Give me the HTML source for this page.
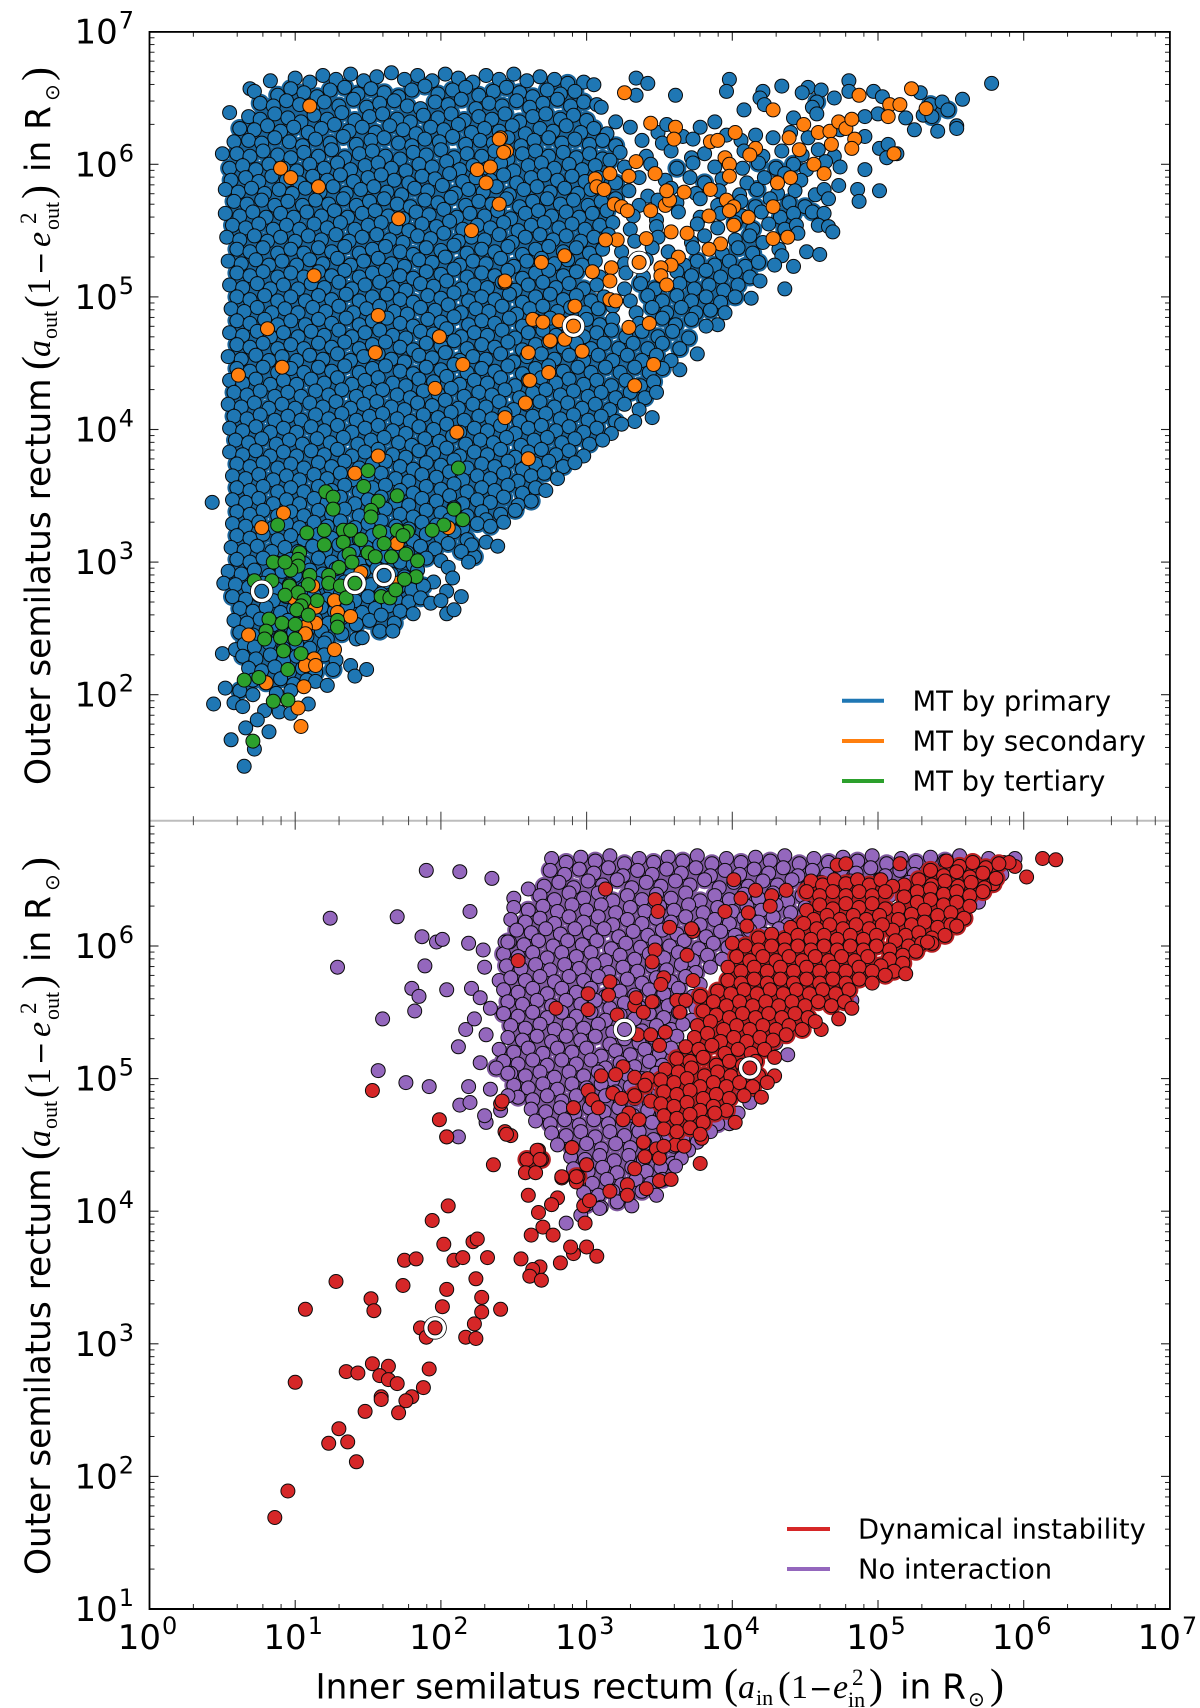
<!DOCTYPE html>
<html>
<head>
<meta charset="utf-8">
<title>Semilatus rectum scatter</title>
<style>
html,body{margin:0;padding:0;background:#fff}
svg{display:block}
text{font-family:"DejaVu Sans","Liberation Sans",sans-serif;fill:#000}
.m{font-family:"Liberation Serif","DejaVu Serif",serif}
.i{font-family:"Liberation Serif","DejaVu Serif",serif;font-style:italic}
</style>
</head>
<body>
<svg id="fig" xmlns="http://www.w3.org/2000/svg" width="1200" height="1708" viewBox="0 0 1200 1708">
<rect x="0" y="0" width="1200" height="1708" fill="#fff"/>
<g id="top-marks"></g>
<g id="bottom-marks"></g>
<g id="axes"></g>
<rect x="149.5" y="31" width="1020.5" height="1.8" fill="#000"/>
<rect x="149.5" y="1608" width="1020.5" height="2" fill="#000"/>
<rect x="148.6" y="31" width="1.8" height="1579" fill="#000"/>
<rect x="1169" y="31" width="1.8" height="1579" fill="#000"/>
<g>
<line x1="842" x2="884" y1="700.7" y2="700.7" stroke="#1f77b4" stroke-width="4"/>
<text x="912.5" y="710.7" font-size="27.4">MT by primary</text>
<line x1="842" x2="884" y1="741" y2="741" stroke="#ff7f0e" stroke-width="4"/>
<text x="912.5" y="750.7" font-size="27.4">MT by secondary</text>
<line x1="842" x2="884" y1="781" y2="781" stroke="#2ca02c" stroke-width="4"/>
<text x="912.5" y="790.7" font-size="27.4">MT by tertiary</text>
</g>
<g>
<line x1="787" x2="830" y1="1529" y2="1529" stroke="#d62728" stroke-width="4"/>
<text x="858" y="1538.5" font-size="27.4">Dynamical instability</text>
<line x1="787" x2="830" y1="1569" y2="1569" stroke="#9467bd" stroke-width="4"/>
<text x="858" y="1578.5" font-size="27.4">No interaction</text>
</g>
<g>
<text x="315.5" y="1698.5" font-size="34.3">Inner semilatus rectum</text>
<text class="m" x="724" y="1698" font-size="42">(</text>
<text class="i" x="738" y="1698" font-size="34">a</text>
<text class="m" x="756" y="1705" font-size="22">in</text>
<text class="m" x="778" y="1698" font-size="38">(</text>
<text class="m" x="791" y="1698" font-size="34">1</text>
<text x="809" y="1698" font-size="28">−</text>
<text class="i" x="833" y="1698" font-size="34">e</text>
<text class="m" x="852" y="1685" font-size="23">2</text>
<text class="m" x="848" y="1707" font-size="22">in</text>
<text class="m" x="869" y="1698" font-size="42">)</text>
<text x="900" y="1698.5" font-size="34.3">in R</text>
<text x="968" y="1706" font-size="20">⊙</text>
<text class="m" x="990" y="1698" font-size="42">)</text>
</g>
<g transform="translate(50,785) rotate(-90)">
<text x="0" y="0" font-size="34.3">Outer semilatus rectum</text>
<text class="m" x="415" y="1" font-size="42">(</text>
<text class="i" x="428" y="0" font-size="34">a</text>
<text class="m" x="446" y="7" font-size="22">out</text>
<text class="m" x="477" y="1" font-size="38">(</text>
<text class="m" x="490" y="0" font-size="34">1</text>
<text x="510" y="0" font-size="28">−</text>
<text class="i" x="538" y="0" font-size="34">e</text>
<text class="m" x="561" y="-14" font-size="23">2</text>
<text class="m" x="555" y="9" font-size="22">out</text>
<text class="m" x="586" y="1" font-size="42">)</text>
<text x="613" y="0" font-size="34.3">in R</text>
<text x="684" y="9" font-size="20">⊙</text>
<text class="m" x="704" y="1" font-size="42">)</text>
</g>
<g transform="translate(50,1575) rotate(-90)">
<text x="0" y="0" font-size="34.3">Outer semilatus rectum</text>
<text class="m" x="415" y="1" font-size="42">(</text>
<text class="i" x="428" y="0" font-size="34">a</text>
<text class="m" x="446" y="7" font-size="22">out</text>
<text class="m" x="477" y="1" font-size="38">(</text>
<text class="m" x="490" y="0" font-size="34">1</text>
<text x="510" y="0" font-size="28">−</text>
<text class="i" x="538" y="0" font-size="34">e</text>
<text class="m" x="561" y="-14" font-size="23">2</text>
<text class="m" x="555" y="9" font-size="22">out</text>
<text class="m" x="586" y="1" font-size="42">)</text>
<text x="613" y="0" font-size="34.3">in R</text>
<text x="684" y="9" font-size="20">⊙</text>
<text class="m" x="704" y="1" font-size="42">)</text>
</g>
</svg>
<script>
// All point values are log10(value in solar radii) x 100, stored as x,y,x,y,...
const xTickExponents = [0,1,2,3,4,5,6,7];
const topYTickExponents = [2,3,4,5,6,7];
const bottomYTickExponents = [1,2,3,4,5,6];
const xMinorMultipliers = [2,4,6,8];
const yMinorMultipliers = [2,3,4,5,6,7,8,9];

const primaryLog = [
100,665,110,662,119,667,128,664,138,668,147,663,156,666,166,669,175,664,184,667,194,663,203,668,212,665,222,662,231,667,240,664,250,668,259,663,268,666,278,664,287,661,298,662,
69,657,83,663,72,655,88,652,97,657,106,654,115,651,124,656,134,658,143,653,152,657,161,654,171,651,180,656,189,659,198,653,208,656,217,658,226,652,236,655,245,658,254,654,263,651,273,656,282,653,292,655,305,660,334,665,342,661,398,664,
334,652,361,652,396,655,434,659,421,655,452,658,461,656,480,663,480,655,497,655,529,654,448,654,
76,646,85,644,94,648,103,645,112,642,120,647,130,644,140,649,149,643,158,646,168,648,177,644,186,642,196,647,205,645,214,649,224,642,233,646,242,644,252,648,261,643,270,646,280,649,289,644,298,647,307,645,419,650,470,650,503,651,458,647,
68,636,76,634,86,638,95,635,104,632,113,637,122,634,132,639,141,633,151,636,160,638,170,634,179,632,188,637,198,635,207,638,216,633,226,636,235,634,244,638,254,632,263,636,272,638,282,634,291,637,300,633,310,643,320,632,422,645,408,641,455,643,536,645,544,647,
62,627,72,626,81,629,90,625,99,628,109,624,118,627,127,630,137,625,146,628,155,624,165,629,174,626,183,623,193,628,202,626,212,630,221,624,230,627,240,625,249,629,258,623,268,627,277,625,286,629,296,624,305,627,314,623,330,628,349,624,355,630,378,628,388,632,458,638,442,635,500,638,491,636,519,635,531,637,537,636,548,641,558,649,578,661,
55,639,58,617,68,618,77,616,86,620,96,617,105,614,114,619,124,616,133,621,142,615,152,618,161,620,171,616,180,614,189,619,199,617,208,621,217,615,227,618,236,616,246,620,255,614,264,618,274,620,283,616,292,619,302,615,311,618,320,614,338,618,352,616,366,621,373,619,396,622,406,618,416,622,428,620,440,624,452,620,474,626,491,621,525,626,541,625,554,629,554,627,
60,608,69,606,78,610,88,607,97,605,106,609,116,606,125,611,134,605,144,608,153,610,162,606,172,604,181,609,190,607,200,611,209,605,218,608,228,606,237,610,246,604,256,608,265,610,274,606,284,609,293,605,302,608,311,604,323,609,341,606,358,610,372,605,381,608,408,610,421,606,434,610,448,607,459,611,470,606,501,612,507,615,513,608,506,605,
50,608,55,597,64,599,73,596,82,600,92,597,101,595,110,600,120,597,129,601,138,596,148,599,157,601,166,597,176,595,185,600,194,598,204,602,213,596,222,599,232,597,241,601,250,595,260,599,269,601,278,597,288,600,297,596,306,599,316,603,326,598,344,600,362,597,373,601,388,598,407,597,418,601,430,597,442,600,451,596,464,602,474,598,491,596,
56,588,66,590,75,587,84,591,94,588,103,586,112,591,122,588,131,592,140,587,150,590,159,592,168,588,178,586,187,591,196,589,206,593,215,587,224,590,234,588,243,592,252,586,262,590,271,592,280,588,290,591,299,587,308,590,320,586,336,590,354,588,371,590,381,586,393,589,410,586,422,590,436,593,447,588,473,584,486,581,501,580,
52,581,61,579,70,582,79,578,89,581,98,578,107,582,117,579,126,583,135,578,145,581,154,583,163,579,173,577,182,582,191,580,201,584,210,578,219,581,229,579,238,583,247,577,257,581,266,583,275,579,285,582,294,578,303,581,312,577,329,580,342,576,358,582,375,578,391,580,405,577,417,581,431,578,443,580,457,577,463,581,466,574,487,572,
58,572,67,570,77,573,86,569,95,572,105,569,114,573,123,570,133,574,142,569,151,572,161,574,170,570,179,568,189,573,198,571,207,575,217,569,226,572,235,570,245,574,254,568,263,572,273,574,282,570,291,573,301,569,310,572,320,574,336,569,349,573,362,571,378,574,390,569,406,572,416,568,426,574,439,571,450,568,
52,563,62,561,71,564,80,560,90,563,99,560,108,564,118,561,127,565,136,560,146,563,155,565,164,561,174,559,183,564,192,562,202,566,211,560,220,563,230,561,239,565,248,559,258,563,267,565,276,561,286,564,295,560,304,563,314,565,332,561,348,558,363,564,378,560,392,563,407,561,420,564,433,560,442,563,455,564,463,563,
57,554,66,552,75,555,85,551,94,554,103,551,113,555,122,552,131,556,141,551,150,554,159,556,169,552,178,550,187,555,197,553,206,557,215,551,225,554,234,552,243,556,253,550,262,554,271,556,281,552,290,555,299,551,309,554,318,556,330,551,348,553,376,555,390,552,402,556,414,551,425,555,436,551,444,554,459,554,466,553,469,549,445,548,
53,545,62,543,72,546,81,542,90,545,100,542,109,546,118,543,128,547,137,542,146,545,156,547,165,543,174,541,184,546,193,544,202,548,212,542,221,545,230,543,240,547,249,541,258,545,268,547,277,543,286,546,296,542,305,545,315,547,333,542,349,545,372,541,381,546,402,543,412,546,421,541,432,536,
60,536,69,534,78,537,88,533,97,536,106,533,116,537,125,534,134,538,144,533,153,536,162,538,172,534,181,532,190,537,200,535,209,539,218,533,228,536,237,534,246,538,256,532,265,536,274,538,284,534,293,537,302,533,311,536,324,534,345,537,356,534,373,537,393,533,404,537,414,533,434,531,451,534,460,532,
54,527,63,525,73,528,82,524,91,527,101,524,110,528,119,525,129,529,138,524,147,527,157,529,166,525,175,523,185,528,194,526,203,530,213,524,222,527,231,525,241,529,250,523,259,527,269,529,278,525,287,528,297,524,306,527,326,525,341,528,367,524,376,527,388,524,398,527,409,523,418,526,429,524,442,523,
60,518,69,516,78,519,88,515,97,518,106,515,116,519,125,516,134,520,144,515,153,518,162,520,172,516,181,514,190,519,200,517,209,521,218,515,228,518,237,516,246,520,256,514,265,518,274,520,284,516,293,519,309,515,327,518,339,515,362,519,372,516,382,520,392,515,402,519,412,515,419,512,
55,509,64,507,74,510,83,506,92,509,102,506,111,510,120,507,130,511,139,506,148,509,158,511,167,507,176,505,186,510,195,508,204,512,214,506,223,509,232,507,242,511,251,505,260,509,270,511,279,507,288,510,298,506,307,509,326,506,337,510,347,506,364,510,374,506,384,509,394,505,404,509,413,499,436,506,
60,500,69,498,79,501,88,497,97,500,107,497,116,501,125,498,135,502,144,497,153,500,163,502,172,498,181,496,191,501,200,499,209,503,219,497,228,500,237,498,247,502,256,496,265,500,275,502,284,498,293,501,303,497,312,500,330,497,342,501,352,497,362,501,372,497,382,500,392,496,402,500,
56,491,65,489,74,492,84,488,93,491,102,488,112,492,121,489,130,493,140,488,149,491,158,493,168,489,177,487,186,492,196,490,205,494,214,488,224,491,233,489,242,493,252,487,261,491,270,493,280,489,289,492,299,488,308,491,318,493,334,488,345,492,355,488,365,492,375,488,385,490,390,479,395,488,
60,482,69,480,79,483,88,479,97,482,107,479,116,483,125,480,135,484,144,479,153,482,163,484,172,480,181,478,191,483,200,481,209,485,219,479,228,482,237,480,247,484,256,478,265,482,275,484,284,480,300,483,309,479,318,483,336,480,352,484,361,479,372,483,382,478,
55,473,64,471,74,474,83,470,92,473,102,470,111,474,120,471,130,475,139,470,148,473,158,475,167,471,176,469,186,474,195,472,204,476,214,470,223,473,232,471,242,475,251,469,260,473,270,475,279,471,288,474,298,470,307,473,317,475,327,470,338,474,349,470,359,474,370,469,376,457,
60,464,69,462,78,465,88,461,97,464,106,461,116,465,125,462,134,466,144,461,153,464,162,466,172,462,181,460,190,465,200,463,209,467,218,461,228,464,237,462,246,466,256,460,265,464,274,466,284,462,293,465,303,461,312,465,322,461,332,465,342,461,352,465,364,461,364,445,
54,455,63,453,73,456,82,452,91,455,101,452,110,456,119,453,129,457,138,452,147,455,157,457,166,453,175,451,185,456,194,454,203,458,213,452,222,455,231,453,241,457,250,451,259,455,269,457,278,453,288,456,298,452,308,456,318,452,328,456,338,452,348,456,358,452,
60,446,69,444,78,447,88,443,97,446,106,443,116,447,125,444,134,448,144,443,153,446,162,448,172,444,181,442,190,447,200,445,209,449,218,443,228,446,237,444,246,448,256,442,265,446,274,448,284,444,294,447,303,443,313,447,323,443,333,447,343,443,352,446,
55,437,64,435,73,438,83,434,92,437,101,434,111,438,120,435,129,439,139,434,148,437,157,439,167,435,176,433,185,438,195,436,204,440,213,434,223,437,232,435,241,439,251,433,260,437,269,439,279,435,288,438,298,434,307,437,317,433,327,437,337,433,346,436,
58,428,67,426,76,429,86,425,95,428,104,425,114,429,123,426,132,430,142,425,151,428,160,430,170,426,179,424,188,429,198,427,207,431,216,425,226,428,235,426,244,430,254,424,263,428,272,430,282,426,291,429,301,425,310,428,320,424,330,428,340,424,348,428,
54,419,63,417,72,420,82,416,91,419,100,416,110,420,119,417,128,421,138,416,147,419,156,421,166,417,175,415,184,420,194,418,203,422,212,416,222,419,231,417,240,421,250,415,259,419,268,421,278,417,287,420,297,416,306,419,316,415,326,419,336,415,
58,410,67,408,76,411,86,407,95,410,104,407,114,411,123,408,132,412,142,407,151,410,160,412,170,408,179,406,188,411,198,409,207,413,216,407,226,410,235,408,244,412,254,406,263,410,272,412,282,408,291,411,301,407,310,410,320,406,333,406,345,409,324,404,
55,401,64,399,73,402,83,398,92,401,101,398,111,402,120,399,129,403,139,398,148,401,157,403,167,399,176,397,185,402,195,400,204,404,213,398,223,401,232,399,241,403,251,397,260,401,269,403,279,399,288,402,298,398,307,401,317,397,
59,392,68,390,77,393,87,389,96,392,105,389,115,393,124,390,133,394,143,389,152,392,161,394,171,390,180,388,189,393,199,391,208,395,217,389,227,392,236,390,245,394,255,388,264,392,273,394,283,390,292,393,302,389,311,392,
55,383,64,381,73,384,83,380,92,383,101,380,111,384,120,381,129,385,139,380,148,383,157,385,167,381,176,379,185,384,195,382,204,386,213,380,223,383,232,381,241,385,251,379,260,383,269,385,279,381,288,384,298,380,
60,374,69,372,78,375,88,371,97,374,106,371,116,375,125,372,134,376,144,371,153,374,162,376,172,372,181,370,190,375,200,373,209,377,218,371,228,374,237,372,246,376,256,370,265,374,274,376,284,372,292,375,
57,365,66,363,75,366,85,362,94,365,103,362,113,366,122,363,131,367,141,362,150,365,159,367,169,363,178,361,187,366,197,364,206,368,215,362,225,365,234,363,243,367,253,361,262,365,271,367,280,363,
60,356,69,354,78,357,88,353,97,356,106,353,116,357,125,354,134,358,144,353,153,356,162,358,172,354,181,352,190,357,200,355,209,359,218,353,228,356,237,354,246,358,256,352,265,356,272,354,
43,345,57,347,66,345,75,348,85,344,94,347,103,344,113,348,122,345,131,349,141,344,150,347,159,349,169,345,178,343,187,348,197,346,206,350,215,344,225,347,234,345,243,349,253,343,262,346,
60,338,69,336,78,339,88,335,97,338,106,335,116,339,125,336,134,340,144,335,153,338,162,340,172,336,181,334,190,339,200,337,209,341,218,335,228,338,231,332,241,336,251,339,
57,329,66,327,75,330,85,326,94,329,103,326,113,330,122,327,131,331,141,326,150,329,159,331,169,327,178,325,187,330,197,328,206,332,215,326,225,329,234,327,243,330,
60,320,69,318,78,321,88,317,97,320,106,317,116,321,125,318,134,322,144,317,153,320,162,322,172,318,181,316,190,321,200,319,209,323,218,317,223,304,231,315,239,312,221,313,
56,311,65,309,74,312,84,308,93,311,102,308,112,312,121,309,130,313,140,308,149,311,158,313,168,309,177,307,186,312,196,310,205,314,214,308,219,300,
60,302,69,300,78,303,88,299,97,302,106,299,116,303,125,300,134,304,144,299,153,302,162,304,172,300,181,298,190,303,200,301,205,296,
54,293,63,291,72,294,82,290,91,293,100,290,110,294,119,291,128,295,138,290,147,293,156,295,166,291,175,289,184,294,195,285,208,288,
51,284,59,283,68,281,78,284,87,280,96,283,106,280,115,284,124,281,134,285,143,280,152,283,162,285,171,281,180,279,188,282,204,278,214,274,
57,274,66,272,75,275,85,271,94,274,103,271,113,275,122,272,131,276,141,271,150,274,159,276,169,272,178,270,186,273,193,269,200,271,
62,265,71,263,80,266,90,262,99,265,108,262,118,266,127,263,136,267,146,262,155,265,164,267,172,263,181,261,204,261,209,264,
58,256,67,254,76,257,86,253,95,256,104,253,114,257,123,254,132,258,142,253,151,256,159,260,168,254,
62,247,71,245,80,248,90,244,99,247,108,244,118,248,122,242,132,246,142,242,146,243,158,248,167,248,
50,231,59,234,65,238,72,236,82,239,92,235,101,238,110,235,120,239,
64,229,73,227,83,230,92,226,101,229,111,226,120,230,128,226,138,222,
68,220,77,218,86,221,96,217,105,220,114,217,126,219,141,214,149,219,
71,211,80,209,90,212,99,208,108,211,114,210,122,207,
52,205,62,203,71,200,87,201,97,203,
44,193,58,194,64,191,79,188,89,187,97,186,109,193,
66,175,74,181,82,172,56,166,72,159,65,146
];

const secondaryLog = [
326,654,344,631,361,628,360,619,385,617,390,618,402,624,428,641,449,630,459,624,467,625,473,632,478,627,482,634,487,652,508,645,515,645,507,636,523,657,533,642,439,620,446,611,468,615,484,619,482,612,511,608,416,612,412,607,395,605,398,600,398,591,456,600,463,593,440,590,431,586,334,602,316,593,329,591,347,593,306,589,307,583,312,581,245,610,241,620,319,570,324,568,328,565,344,565,354,569,357,573,355,580,367,579,385,581,396,573,401,568,398,565,384,561,411,560,428,568,401,554,358,549,369,548,341,544,321,543,313,543,428,544,438,545,392,540,384,536,363,530,358,524,351,522,351,516,355,509,317,522,304,519,316,512,269,526,285,531,244,511,316,498,320,497,292,493,263,483,270,481,281,482,329,477,343,480,275,467,285,468,297,459,260,458,346,449,274,443,261,437,333,433,258,420,244,409,
110,644,90,597,97,590,116,583,171,559,113,516,225,596,234,598,240,619,243,609,231,586,240,570,221,550,81,476,91,447,61,441,157,486,155,458,199,470,215,449,196,431,244,512,211,398,157,380,260,378,
141,367,92,337,77,326,205,326,170,314,145,292,112,282,127,271,114,266,129,262,138,259,114,254,107,251,107,246,68,245,127,234,113,227,107,222,114,222,80,209,106,206,102,190,104,176,170,284,99,273
];

const tertiaryLog = [
150,369,212,371,147,357,121,353,126,349,170,350,157,346,126,340,209,340,215,332,152,339,152,334,88,328,202,328,194,324,108,322,120,324,133,324,138,324,158,323,177,323,170,324,174,320,145,317,133,315,161,314,120,313,103,307,102,302,102,297,97,294,137,306,150,307,155,304,166,304,176,306,184,301,139,300,85,300,93,300,130,296,123,290,110,290,109,283,84,286,72,286,183,289,175,287,96,282,102,277,93,275,123,284,131,282,135,273,159,274,165,273,169,279,115,271,106,271,104,267,101,264,109,260,82,257,91,254,100,253,129,256,129,251,80,248,79,242,90,243,100,242,92,233,104,231,95,219,65,211,75,213,85,195,95,196,71,165
];

const noInteractionLog = [
276,666,286,663,296,667,306,664,316,668,326,662,336,666,346,663,356,667,366,664,376,668,386,662,396,666,406,663,416,667,426,664,436,668,446,662,456,666,466,663,476,667,486,664,496,668,506,662,516,666,526,663,536,667,546,664,556,668,566,662,576,666,586,663,594,666,
275,657,285,654,295,658,305,655,315,659,325,653,335,657,345,654,355,658,365,655,375,659,385,653,395,657,405,654,415,658,425,655,435,659,445,653,455,657,465,654,475,658,485,655,495,659,505,653,515,657,525,654,535,658,545,655,555,659,565,653,575,657,585,654,
260,643,271,645,281,648,291,644,301,649,311,646,321,650,331,644,341,648,351,645,361,649,371,646,381,650,391,644,401,648,411,645,421,649,431,646,441,650,451,644,461,648,471,645,481,649,491,646,501,650,511,644,521,648,531,645,541,649,551,646,561,650,571,645,
250,636,268,638,278,635,288,640,298,636,308,640,318,634,328,638,338,635,348,639,358,636,368,640,378,634,388,638,398,635,408,639,418,636,428,640,438,634,448,638,458,635,468,639,478,636,488,640,498,634,508,638,518,635,528,639,538,636,548,638,558,637,
250,629,260,627,270,630,280,626,290,631,300,627,310,631,320,625,330,629,340,626,350,630,360,627,370,631,380,625,390,629,400,626,410,630,420,627,430,631,440,625,450,629,
248,620,258,618,268,621,278,617,288,622,298,618,308,622,318,616,328,620,338,617,348,621,358,618,368,622,378,616,388,620,398,617,408,621,418,618,428,622,438,616,569,633,
244,603,252,612,262,610,272,613,282,609,292,613,302,610,312,613,322,607,332,611,342,608,352,612,362,609,372,613,382,607,392,611,402,608,412,612,422,609,432,613,442,608,
247,603,257,601,267,604,277,600,287,604,297,601,307,604,317,598,327,602,337,599,347,603,357,600,367,604,377,598,387,602,397,599,405,603,
243,594,253,592,263,595,273,591,283,595,293,592,303,595,313,589,323,593,333,590,343,594,353,591,363,595,373,589,383,593,393,590,
240,574,245,585,255,583,265,586,275,582,285,586,295,583,305,586,315,580,325,584,335,581,345,585,355,582,365,586,375,580,385,584,
248,576,258,574,268,577,278,573,288,577,298,574,308,577,318,571,328,575,338,572,348,576,358,573,368,577,378,571,
243,567,253,565,263,568,273,564,283,568,293,565,303,568,313,562,323,566,333,563,343,567,353,564,363,568,373,562,482,559,
246,558,256,556,266,559,276,555,286,559,296,556,306,559,316,553,326,557,336,554,346,558,356,555,366,559,375,553,
243,549,253,547,263,550,273,546,283,550,293,547,303,550,313,544,323,548,333,545,343,549,353,546,363,550,372,544,
248,540,258,538,268,541,278,537,288,541,298,538,308,541,318,535,328,539,338,536,348,540,358,537,366,541,
246,531,256,529,266,532,276,528,286,532,296,529,306,532,316,526,326,530,336,527,346,531,356,528,362,532,438,518,430,527,
240,522,250,520,260,523,270,519,280,523,290,520,300,523,310,517,320,521,330,518,340,522,350,519,358,523,
243,513,253,511,263,514,273,510,283,514,293,511,303,514,313,508,323,512,333,509,343,513,352,510,
248,504,258,502,268,505,278,501,288,505,298,502,308,505,318,499,328,503,338,500,348,504,402,488,412,482,
250,495,260,493,270,496,280,492,290,496,300,493,310,496,320,490,330,494,340,491,350,495,394,478,404,474,
253,486,263,484,273,487,283,483,293,487,303,484,313,487,323,481,333,485,343,482,352,486,386,471,398,466,
262,477,272,475,282,478,292,474,302,478,312,475,322,478,332,472,342,476,352,473,362,477,372,471,382,475,390,466,
265,468,275,466,285,469,295,465,305,469,315,466,325,469,335,463,345,467,355,464,365,468,375,462,385,460,
276,459,286,457,296,460,306,456,316,460,326,457,336,460,346,454,356,458,366,455,376,452,
280,450,290,448,300,451,310,447,320,451,330,448,340,451,350,445,360,449,370,446,
289,441,299,439,309,442,319,438,329,442,339,439,349,442,359,436,365,440,
286,391,296,397,291,432,301,430,311,433,321,429,331,433,341,430,351,433,361,434,
294,423,304,421,314,424,324,420,334,424,344,421,352,424,
298,414,308,412,318,415,328,411,338,415,348,412,
300,405,310,403,321,407,331,404,309,402,
124,621,129,584,190,657,235,651,213,656,170,622,187,607,189,585,197,603,220,626,201,605,219,602,229,597,246,603,230,584,180,568,185,562,182,551,204,567,160,545,221,568,227,561,212,524,217,537,223,545,234,553,243,549,231,533,227,512,219,494,238,508,246,504,231,467,212,456,204,456,192,494,176,497,157,506,234,492,213,480,220,482,241,476,230,472,246,487
];

const dynamicalLog = [
199,469,204,456,244,460,248,457,245,458,236,435,267,446,269,439,259,439,258,429,265,429,260,412,283,425,294,426,293,422,290,448,300,435,291,478,241,481,276,405,280,410,298,404,267,399,270,388,299,391,277,382,262,382,291,368,289,373,300,373,282,361,307,366,255,364,268,358,263,356,261,351,269,348,205,404,194,393,202,375,222,377,225,379,232,365,209,363,215,365,175,363,183,364,224,349,128,347,174,344,204,341,228,335,201,328,152,334,154,325,107,326,241,326,228,324,223,315,186,312,190,305,217,305,224,304,100,271,153,285,135,279,143,278,164,283,158,276,164,273,170,270,192,281,188,267,159,260,159,258,180,260,176,257,148,249,171,248,130,236,123,225,136,226,142,211,95,189,86,169,153,491,
313,643,347,635,349,626,357,614,373,611,372,613,401,650,416,642,406,636,427,638,437,642,426,630,395,626,411,625,410,615,472,661,478,662,515,662,253,589,347,597,345,588,369,593,353,576,351,571,373,574,316,573,301,564,315,563,279,553,301,552,321,548,333,555,334,561,339,550,345,558,362,559,368,559,364,550,335,533,344,533,354,535,350,525,325,509,310,502,320,503,333,501,342,500,340,495,301,491,318,489,324,485,333,487,304,484,308,478,291,478,344,483,242,483,329,474,325,469,336,469,339,452,290,448,300,435,333,432,293,426,283,426,266,446,268,439,340,441,348,447,350,440,361,450,367,449,379,455,350,423,358,424,341,417,328,420,328,412,316,415,276,405,302,408,378,436,
613,666,622,665,602,652,579,647,594,660,590,663,
547,664,556,660,565,663,574,659,583,662,536,657,545,653,554,656,563,652,572,655,581,651,528,650,537,646,546,649,555,645,564,648,573,644,518,646,527,641,536,643,545,639,554,641,563,638,572,641,
454,649,462,646,470,650,478,647,486,650,494,646,502,650,510,645,518,637,527,633,536,635,545,631,554,633,563,630,
451,641,460,638,469,641,478,638,487,641,496,638,505,641,514,628,523,624,532,627,541,623,550,625,559,621,
451,627,460,631,469,628,478,632,487,629,496,632,505,628,514,620,523,616,532,618,541,614,550,616,
456,620,465,623,474,620,483,623,492,620,501,623,510,612,519,608,528,610,537,606,546,608,554,615,
440,614,449,617,458,613,467,616,476,613,485,616,494,613,503,616,512,604,521,600,530,602,537,602,
418,606,427,609,436,605,445,608,454,605,463,608,472,605,481,608,490,605,499,608,508,597,517,593,526,596,534,603,
400,602,409,600,418,597,427,600,436,597,445,600,454,597,463,600,472,597,481,600,490,597,499,600,508,590,517,587,
403,592,412,589,421,592,430,589,439,592,448,589,457,592,466,589,475,592,484,589,493,592,502,585,511,581,519,579,
397,584,406,581,415,584,424,581,433,584,442,581,451,584,460,581,469,584,478,581,487,584,496,581,505,578,
397,574,406,572,415,575,424,572,433,575,442,572,451,575,460,572,469,575,478,572,487,575,496,572,
390,566,399,564,408,567,417,564,426,567,435,564,444,567,453,564,462,567,471,564,480,567,
378,562,387,558,396,555,405,558,414,555,423,558,432,555,441,558,450,555,459,558,468,555,477,558,
380,551,389,548,398,546,407,549,416,546,425,549,434,546,443,549,452,546,461,537,473,545,482,553,
376,540,385,543,394,537,403,540,412,537,421,540,430,537,439,540,448,537,457,543,
374,531,383,534,392,528,401,531,410,528,419,531,428,529,437,533,
368,524,377,522,386,525,395,519,404,522,413,519,422,522,429,516,
362,515,371,513,380,516,389,510,398,513,407,510,416,513,429,502,
354,507,363,505,372,508,381,502,390,505,399,502,408,505,418,502,424,497,
351,499,360,497,369,500,378,494,387,497,396,494,405,497,414,494,420,486,
353,490,362,488,371,491,380,485,389,488,398,485,408,487,
351,481,360,479,369,482,378,476,387,479,396,476,402,467,
353,472,362,470,371,473,380,467,388,474,
353,462,362,460,371,463,378,458,
353,449
];

const highlightPrimary = [77,278,161,290];
const highlightSecondary = [336,526,291,478];
const highlightTertiary = [141,284];
const highlightNoInteraction = [326,537];
const highlightDynamical = [412,508,196,312];

// Axis functions: input is log10(value) x 100
function xScale(v){ return 149.5 + v * 1.457; }
function yScaleTop(v){ return 31.7 + (700 - v) * 1.326; }
function yScaleBottom(v){ return 1609 - (v - 100) * 1.326; }

const NS = 'http://www.w3.org/2000/svg';
const topMarks = document.getElementById('top-marks');
const bottomMarks = document.getElementById('bottom-marks');
const axes = document.getElementById('axes');

// Soft underlay beneath interior points so the dense core reads as solid;
// only points with at least 5 close neighbours get one, so edges stay crisp.
function addUnderlay(parent, values, yScale, fill, name){
  const n = Math.floor(values.length / 2);
  const px = [], py = [];
  for (let i = 0; i < n; i++){
    px.push(xScale(values[2 * i]));
    py.push(yScale(values[2 * i + 1]));
  }
  for (let i = 0; i < n; i++){
    let near = 0;
    for (let j = 0; j < n; j++){
      if (j === i) continue;
      const dx = px[i] - px[j], dy = py[i] - py[j];
      if (dx * dx + dy * dy < 361) near++;
    }
    if (near < 5) continue;
    const u = document.createElementNS(NS, 'circle');
    u.setAttribute('cx', px[i].toFixed(1));
    u.setAttribute('cy', py[i].toFixed(1));
    u.setAttribute('r', '9.5');
    u.setAttribute('fill', fill);
    
    
    parent.appendChild(u);
  }
}
function addPoints(parent, values, yScale, fill, name){
  for (let i = 0; i + 1 < values.length; i += 2){
    const c = document.createElementNS(NS, 'circle');
    c.setAttribute('cx', xScale(values[i]).toFixed(1));
    c.setAttribute('cy', yScale(values[i + 1]).toFixed(1));
    c.setAttribute('r', '7');
    c.setAttribute('fill', fill);
    c.setAttribute('stroke', '#0a0a0a');
    c.setAttribute('stroke-width', '1');
    
    
    parent.appendChild(c);
  }
}
function addHighlights(parent, values, yScale, fill, name){
  for (let i = 0; i + 1 < values.length; i += 2){
    const ring = document.createElementNS(NS, 'circle');
    ring.setAttribute('cx', xScale(values[i]).toFixed(1));
    ring.setAttribute('cy', yScale(values[i + 1]).toFixed(1));
    ring.setAttribute('r', '11.3');
    ring.setAttribute('fill', '#fff');
    ring.setAttribute('stroke', '#0a0a0a');
    ring.setAttribute('stroke-width', '0.8');
    
    
    parent.appendChild(ring);
  }
  addPoints(parent, values, yScale, fill, name);
}

addUnderlay(topMarks, primaryLog, yScaleTop, '#1a659b', 'primary-density-underlay');
addPoints(topMarks, primaryLog, yScaleTop, '#1f77b4', 'primary-point');
addPoints(topMarks, secondaryLog, yScaleTop, '#ff7f0e', 'secondary-point');
addPoints(topMarks, tertiaryLog, yScaleTop, '#2ca02c', 'tertiary-point');
addHighlights(topMarks, highlightPrimary, yScaleTop, '#1f77b4', 'highlight-primary');
addHighlights(topMarks, highlightSecondary, yScaleTop, '#ff7f0e', 'highlight-secondary');
addHighlights(topMarks, highlightTertiary, yScaleTop, '#2ca02c', 'highlight-tertiary');
addUnderlay(bottomMarks, noInteractionLog, yScaleBottom, '#7f589f', 'no-interaction-density-underlay');
addPoints(bottomMarks, noInteractionLog, yScaleBottom, '#9467bd', 'no-interaction-point');
addUnderlay(bottomMarks, dynamicalLog, yScaleBottom, '#b82022', 'dynamical-density-underlay');
addPoints(bottomMarks, dynamicalLog, yScaleBottom, '#d62728', 'dynamical-point');
addHighlights(bottomMarks, highlightNoInteraction, yScaleBottom, '#9467bd', 'highlight-no-interaction');
addHighlights(bottomMarks, highlightDynamical, yScaleBottom, '#d62728', 'highlight-dynamical');

function addLine(x1, y1, x2, y2, color, width, name){
  const l = document.createElementNS(NS, 'line');
  l.setAttribute('x1', x1);
  l.setAttribute('y1', y1);
  l.setAttribute('x2', x2);
  l.setAttribute('y2', y2);
  l.setAttribute('stroke', color);
  l.setAttribute('stroke-width', width);
  
  
  axes.appendChild(l);
}
function addTickLabel(x, y, anchor, exponent, name){
  const t = document.createElementNS(NS, 'text');
  t.setAttribute('x', x);
  t.setAttribute('y', y);
  t.setAttribute('text-anchor', anchor);
  t.setAttribute('font-size', '34');
  
  
  t.textContent = '10';
  const s = document.createElementNS(NS, 'tspan');
  s.setAttribute('font-size', '24');
  s.setAttribute('dy', '-15');
  s.setAttribute('dx', '1');
  s.textContent = String(exponent);
  t.appendChild(s);
  axes.appendChild(t);
}

addLine(149.5, 820.7, 1170, 820.7, '#bdbdbd', 2, 'panel-divider');

const axTop = 31.7, axMid = 820.7, axBottom = 1609, axLeft = 149.5, axRight = 1170;
xTickExponents.forEach(function(e){
  const px = xScale(e * 100);
  if (e > 0 && e < 7){
    addLine(px, axTop, px, axTop + 9, '#222', 1.1, 'x-major-tick-top');
    addLine(px, axMid - 9, px, axMid + 9, '#444', 1.1, 'x-major-tick-mid');
    addLine(px, axBottom, px, axBottom - 9, '#222', 1.1, 'x-major-tick-bottom');
  }
  addTickLabel(px - 2, 1649, 'middle', e, 'x-tick-label');
  if (e < 7){
    xMinorMultipliers.forEach(function(m){
      const mx = xScale((e + Math.log10(m)) * 100);
      addLine(mx, axTop, mx, axTop + 5, '#222', 1, 'x-minor-tick-top');
      addLine(mx, axMid - 4.5, mx, axMid + 4.5, '#444', 1, 'x-minor-tick-mid');
      addLine(mx, axBottom, mx, axBottom - 5, '#222', 1, 'x-minor-tick-bottom');
    });
  }
});
function addYTicks(exponents, yScale, lowExp, highExp, yMin, yMax, panel){
  exponents.forEach(function(e){
    const py = yScale(e * 100);
    addLine(axLeft, py, axLeft + 9, py, '#222', 1.1, panel + '-y-major-tick-left');
    addLine(axRight, py, axRight - 9, py, '#222', 1.1, panel + '-y-major-tick-right');
    addTickLabel(134, py + 12, 'end', e, panel + '-y-tick-label');
  });
  for (let d = lowExp; d < highExp; d++){
    yMinorMultipliers.forEach(function(m){
      const my = yScale((d + Math.log10(m)) * 100);
      if (my > yMin && my < yMax){
        addLine(axLeft, my, axLeft + 5, my, '#222', 1, panel + '-y-minor-tick-left');
        addLine(axRight, my, axRight - 5, my, '#222', 1, panel + '-y-minor-tick-right');
      }
    });
  }
}
addYTicks(topYTickExponents, yScaleTop, 1, 7, axTop, axMid, 'top');
addYTicks(bottomYTickExponents, yScaleBottom, 1, 7, axMid, axBottom, 'bottom');
</script>
</body>
</html>
